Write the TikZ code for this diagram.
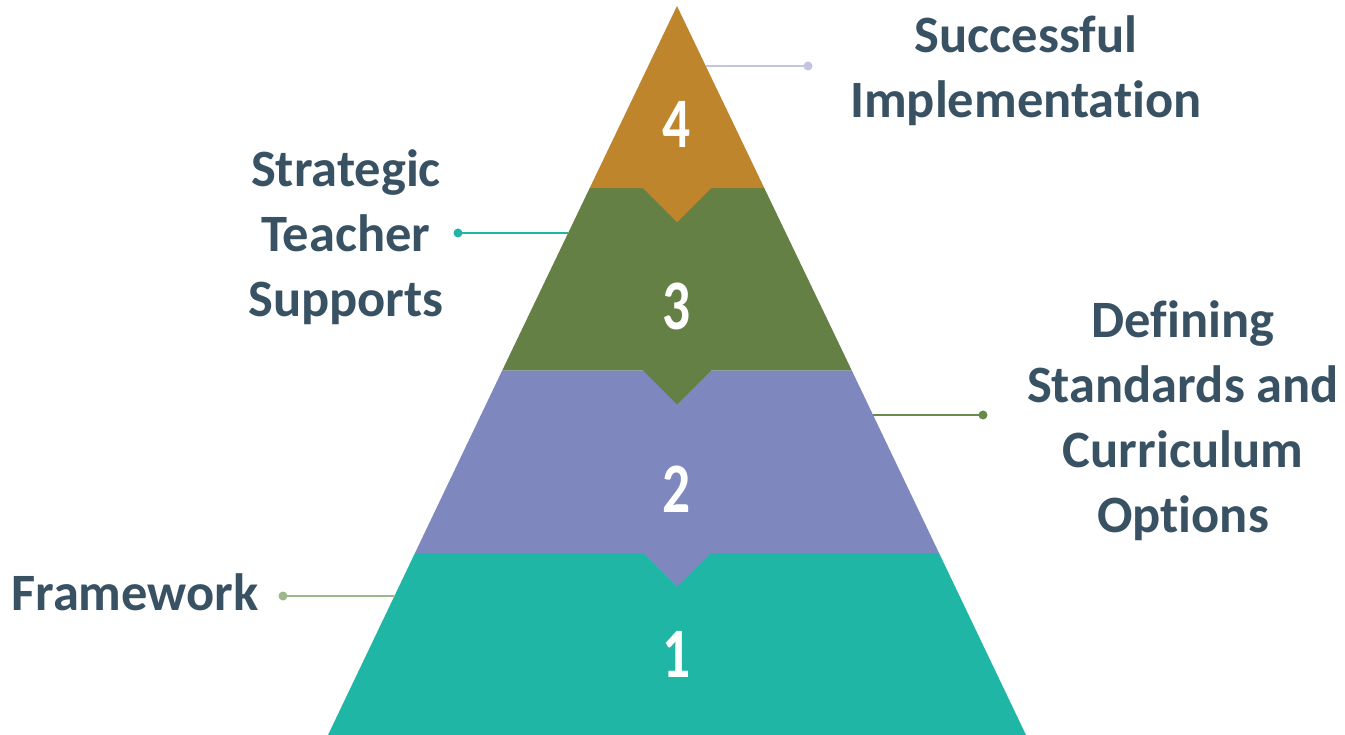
\documentclass[tikz,border=0pt]{standalone}
\usepackage{fontspec}
\setmainfont{Carlito}[Ligatures=NoCommon]
\newfontfamily\digitfont[FakeStretch=0.78]{Carlito}
\definecolor{ink}{HTML}{385263}
\definecolor{tierA}{HTML}{20B6A6}
\definecolor{tierB}{HTML}{7E87BE}
\definecolor{tierC}{HTML}{648045}
\definecolor{tierD}{HTML}{BF852D}
\definecolor{leadA}{HTML}{9DB88A}
\definecolor{leadB}{HTML}{688A4A}
\definecolor{leadC}{HTML}{20B6A6}
\definecolor{leadD}{HTML}{C2C4E0}
\begin{document}
\begin{tikzpicture}[x=1pt,y=-1pt,
  labeltext/.style={font=\bfseries\fontsize{52.5}{65}\selectfont, text=ink,
    align=center, inner sep=0pt, anchor=base},
  tiernum/.style={font=\digitfont\bfseries\fontsize{71}{71}\selectfont,
    text=white, inner sep=0pt, anchor=base},
  enddot/.style={circle, fill=#1, draw=none, inner sep=0pt, minimum size=9pt},
  leader/.style={draw=#1, line width=2.2pt}]
\useasboundingbox (0,0) rectangle (1345,735);

% pyramid tiers, bottom first; each upper tier carries a V notch into the one below
\fill[tierA] (415.1,552.75) -- (938.9,552.75) -- (1026,735) -- (328,735) -- cycle;
\fill[tierB] (502.2,370.5) -- (851.8,370.5) -- (938.9,552.75) -- (711,552.75)
  -- (677,586.75) -- (643,552.75) -- (415.1,552.75) -- cycle;
\fill[tierC] (589.6,188.25) -- (764.4,188.25) -- (851.8,370.5) -- (711,370.5)
  -- (677,404.5) -- (643,370.5) -- (502.2,370.5) -- cycle;
\fill[tierD] (677,6) -- (764.4,188.25) -- (711,188.25) -- (677,222.25)
  -- (643,188.25) -- (589.6,188.25) -- cycle;

% tier numbers
\node[tiernum] (n4) at (677,148) {4};
\node[tiernum] (n3) at (677,330) {3};
\node[tiernum] (n2) at (677,512) {2};
\node[tiernum] (n1) at (677,677) {1};

% attachment points on the pyramid sides
\coordinate (e4) at (705.7,66);
\coordinate (e3) at (568.3,233);
\coordinate (e2) at (872.8,415);
\coordinate (e1) at (394.6,596);

% end dots of the leader lines
\node[enddot=leadD] (d4) at (808,66) {};
\node[enddot=leadC] (d3) at (458,233) {};
\node[enddot=leadB] (d2) at (983,415) {};
\node[enddot=leadA] (d1) at (283,596) {};

\draw[leader=leadD] (e4) -- (d4.center);
\draw[leader=leadC] (e3) -- (d3.center);
\draw[leader=leadB] (e2) -- (d2.center);
\draw[leader=leadA] (e1) -- (d1.center);

% labels (base anchor sits on the last line's baseline)
\node[labeltext] (l4) at (1026,118) {Successful\\Implementation};
\node[labeltext] (l3) at (346,317) {Strategic\\Teacher\\Supports};
\node[labeltext] (l2) at (1183,532) {Defining\\Standards and\\Curriculum\\Options};
\node[labeltext] (l1) at (135,610) {Framework};
\end{tikzpicture}
\end{document}
